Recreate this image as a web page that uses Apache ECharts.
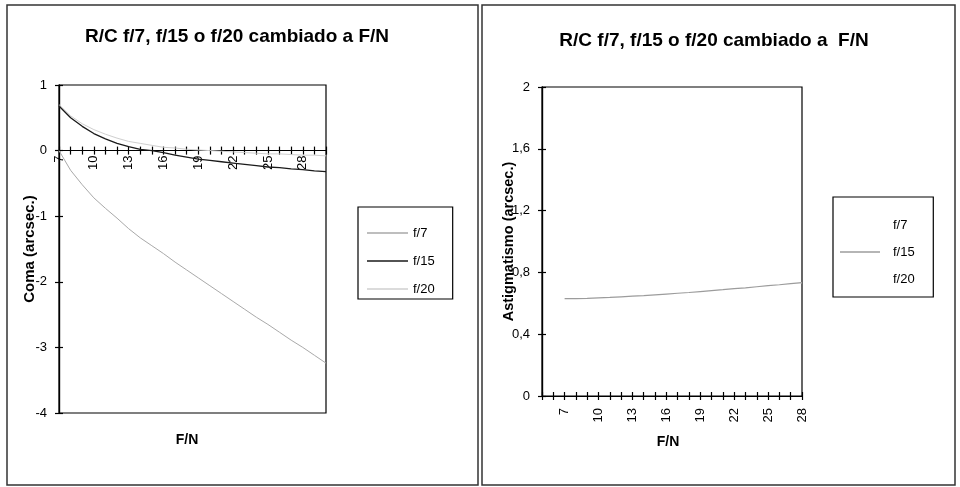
<!DOCTYPE html>
<html>
<head>
<meta charset="utf-8">
<script src="https://cdn.jsdelivr.net/npm/echarts@6/dist/echarts.min.js"></script>
<style>
html,body{margin:0;padding:0;background:#fff;}
#c{width:960px;height:487px;}
</style>
</head>
<body>
<div id="c"></div>
<script>
// ---- Data ----
const titleText = 'R/C f/7, f/15 o f/20 cambiado a F/N';
const titleText2 = 'R/C f/7, f/15 o f/20 cambiado a  F/N';
const seriesNames = ['f/7', 'f/15', 'f/20'];

// Left chart: Coma (arcsec.) vs F/N
const fnLeft = [7,8,9,10,11,12,13,14,15,16,17,18,19,20,21,22,23,24,25,26,27,28,29,30];
const comaF7  = [0,-0.30,-0.52,-0.72,-0.88,-1.03,-1.19,-1.33,-1.45,-1.57,-1.70,-1.82,-1.94,-2.06,-2.18,-2.30,-2.42,-2.54,-2.65,-2.77,-2.89,-3.00,-3.12,-3.24];
const comaF15 = [0.68,0.50,0.37,0.26,0.18,0.11,0.06,0.02,0.00,-0.03,-0.07,-0.10,-0.13,-0.15,-0.17,-0.19,-0.21,-0.23,-0.25,-0.26,-0.28,-0.29,-0.31,-0.32];
const comaF20 = [0.70,0.53,0.41,0.32,0.25,0.19,0.14,0.11,0.08,0.05,0.04,0.02,0.01,0.00,-0.01,-0.02,-0.03,-0.04,-0.05,-0.05,-0.06,-0.07,-0.07,-0.08];

// Right chart: Astigmatismo (arcsec.) vs F/N
const fnRight = [7,8,9,10,11,12,13,14,15,16,17,18,19,20,21,22,23,24,25,26,27,28];
const astigF15 = [0.630,0.630,0.632,0.635,0.638,0.642,0.646,0.650,0.655,0.660,0.665,0.670,0.676,0.682,0.688,0.695,0.700,0.707,0.714,0.720,0.727,0.734];
const astigF7 = astigF15;   // hidden under f/15 in the reference
const astigF20 = astigF15;  // hidden under f/15 in the reference

const leftYTicks = [-4, 1, 1];   // min, max, interval
const rightYTicks = [0, 2, 0.4]; // min, max, interval

// ---- Build ----
const zip = (xs, ys) => xs.map((x, i) => [x, ys[i]]);
const FONT = 'Liberation Sans, Arial, sans-serif';
const xFmt = v => ((v - 7) % 3 === 0 && v <= 28) ? String(v) : '';
const commaFmt = v => Number.isInteger(v) ? String(v) : v.toFixed(1).replace('.', ',');

const G0 = {left: 59, top: 85, width: 267, height: 328};
const G1 = {left: 542, top: 87, width: 260, height: 309};
// move the left x axis up from the grid bottom to the y = 0 line
const zeroOffset = -(G0.height * (0 - leftYTicks[0]) / (leftYTicks[1] - leftYTicks[0]));

function xAxisPair(grid, min, max, margin, offset) {
  const base = {
    type: 'value', gridIndex: grid, min: min, max: max, interval: 1,
    position: 'bottom', offset: offset,
    splitLine: {show: false},
    axisLine: {show: true, onZero: false, lineStyle: {color: '#000', width: 1.2}},
  };
  return [
    Object.assign({}, base, {
      axisTick: {show: true, inside: false, length: 4, lineStyle: {color: '#000', width: 1.2}},
      axisLabel: {show: true, rotate: 90, margin: margin, formatter: xFmt, color: '#000', fontSize: 13, fontFamily: FONT}
    }),
    Object.assign({}, base, {
      axisTick: {show: true, inside: true, length: 4, lineStyle: {color: '#000', width: 1.2}},
      axisLabel: {show: false}
    })
  ];
}
function yAxisPair(grid, ticks, name, nameGap, fmt, nameSize) {
  const base = {
    type: 'value', gridIndex: grid, min: ticks[0], max: ticks[1], interval: ticks[2],
    position: 'left',
    splitLine: {show: false},
    axisLine: {show: true, onZero: false, lineStyle: {color: '#000', width: 1.2}},
  };
  return [
    Object.assign({}, base, {
      name: name, nameLocation: 'middle', nameGap: nameGap, nameMoveOverlap: false,
      nameTextStyle: {color: '#000', fontSize: nameSize, fontWeight: 'bold', fontFamily: FONT},
      axisTick: {show: true, inside: false, length: 4, lineStyle: {color: '#000', width: 1.2}},
      axisLabel: {show: true, margin: 12, formatter: fmt, color: '#000', fontSize: 13, fontFamily: FONT}
    }),
    Object.assign({}, base, {
      axisTick: {show: true, inside: true, length: 4, lineStyle: {color: '#000', width: 1.2}},
      axisLabel: {show: false}
    })
  ];
}

const lineSeries = (name, data, xi, yi, color, width, z) => ({
  name: name, type: 'line', xAxisIndex: xi, yAxisIndex: yi, data: data,
  symbol: 'none', showSymbol: false, smooth: false, z: z, silent: true, animation: false,
  lineStyle: {color: color, width: width}, itemStyle: {color: color}
});

const legendBase = {
  orient: 'vertical', icon: 'rect', itemWidth: 41, itemHeight: 1.5, itemGap: 14,
  borderColor: '#000', borderWidth: 1.2, backgroundColor: '#fff',
  textStyle: {color: '#000', fontSize: 13, lineHeight: 14, fontFamily: FONT}, selectedMode: false
};

const chart = echarts.init(document.getElementById('c'), null, {renderer: 'canvas'});
chart.setOption({
  animation: false,
  backgroundColor: '#fff',
  title: [
    {text: titleText, left: 237, top: 27, textAlign: 'center', padding: 0,
     textStyle: {fontSize: 19, fontWeight: 'bold', color: '#000', fontFamily: FONT}},
    {text: titleText2, left: 714, top: 31, textAlign: 'center', padding: 0,
     textStyle: {fontSize: 19, fontWeight: 'bold', color: '#000', fontFamily: FONT}},
    {text: 'F/N', left: 187, top: 433, textAlign: 'center', padding: 0,
     textStyle: {fontSize: 14, fontWeight: 'bold', color: '#000', fontFamily: FONT}},
    {text: 'F/N', left: 668, top: 435, textAlign: 'center', padding: 0,
     textStyle: {fontSize: 14, fontWeight: 'bold', color: '#000', fontFamily: FONT}}
  ],
  legend: [
    Object.assign({}, legendBase, {
      left: 358, top: 207, padding: [19, 18, 3, 9],
      data: seriesNames.map(n => ({name: n}))
    }),
    Object.assign({}, legendBase, {
      left: 833, top: 197, padding: [21, 15, 11, 7], itemWidth: 40, itemGap: 13,
      textStyle: {color: '#000', fontSize: 13, lineHeight: 14, fontFamily: FONT, padding: [0, 0, 0, 8]},
      data: seriesNames.map(n => ({name: n + ' '}))
    })
  ],
  grid: [
    Object.assign({show: true, borderColor: '#000', borderWidth: 1.2, backgroundColor: 'transparent'}, G0),
    Object.assign({show: true, borderColor: '#000', borderWidth: 1.2, backgroundColor: 'transparent'}, G1)
  ],
  xAxis: [].concat(
    xAxisPair(0, 7, 30, 5, zeroOffset),
    xAxisPair(1, 5, 28, 12, 0)
  ),
  yAxis: [].concat(
    yAxisPair(0, leftYTicks, 'Coma (arcsec.)', 22, v => String(v), 15),
    yAxisPair(1, rightYTicks, 'Astigmatismo (arcsec.)', 26, commaFmt, 14.5)
  ),
  series: [
    lineSeries('f/7', zip(fnLeft, comaF7), 0, 0, '#a9a9a9', 1, 2),
    lineSeries('f/15', zip(fnLeft, comaF15), 0, 0, '#1a1a1a', 1.3, 4),
    lineSeries('f/20', zip(fnLeft, comaF20), 0, 0, '#cfcfcf', 1, 3),
    lineSeries('f/7 ', zip(fnRight, astigF7), 2, 2, '#ffffff', 1, 1),
    lineSeries('f/15 ', zip(fnRight, astigF15), 2, 2, '#9c9c9c', 1.2, 4),
    lineSeries('f/20 ', zip(fnRight, astigF20), 2, 2, '#ffffff', 1, 1)
  ],
  graphic: [
    {type: 'rect', shape: {x: 7, y: 5, width: 471, height: 480}, style: {fill: 'none', stroke: '#333', lineWidth: 1.5}, silent: true},
    {type: 'rect', shape: {x: 482, y: 5, width: 473, height: 480}, style: {fill: 'none', stroke: '#333', lineWidth: 1.5}, silent: true}
  ]
});
</script>
</body>
</html>
